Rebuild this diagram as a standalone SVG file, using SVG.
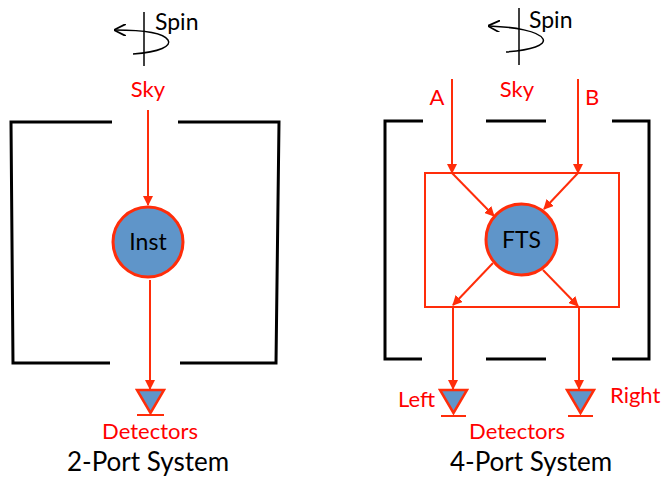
<svg xmlns="http://www.w3.org/2000/svg" width="668" height="477" viewBox="0 0 668 477">
<style>
.frame{fill:none;stroke:#000;stroke-width:3}
.rl{fill:none;stroke:#ff2d0a;stroke-width:2}
.rla{fill:none;stroke:#ff2d0a;stroke-width:2;marker-end:url(#ah)}
.sp{fill:none;stroke:#000;stroke-width:1.5}
.node{fill:#5f95c9;stroke:#ff2d0a;stroke-width:3}
.det{fill:#5f95c9;stroke:#ff2d0a;stroke-width:2.5}
text{font-family:Lato,"Liberation Sans",sans-serif}
.red{fill:#ff0000;font-size:22px}
.blk{fill:#000;font-size:23px}
.title{fill:#000;font-size:26px}
</style>
<defs>
<marker id="ah" viewBox="0 0 10 10" refX="9" refY="5" markerWidth="5" markerHeight="5" orient="auto" markerUnits="strokeWidth">
<path d="M0,0 L10,5 L0,10 z" fill="#ff2d0a"/>
</marker>
<marker id="bh" viewBox="0 0 10 10" refX="9" refY="5" markerWidth="8" markerHeight="8" orient="auto" markerUnits="strokeWidth">
<path d="M0,0 L10,5 L0,10" fill="none" stroke="#000" stroke-width="1.5"/>
</marker>
</defs>

<g id="spin-left">
<line class="sp" x1="144" y1="12" x2="144" y2="66"/>
<path class="sp" d="M133,54 C160,52 172,46 168,40 C163,32 140,30 115,30" marker-end="url(#bh)"/>
<text class="blk" x="155" y="30">Spin</text>
</g>
<g id="spin-right">
<line class="sp" x1="519" y1="8" x2="519" y2="65"/>
<path class="sp" d="M506,52 C532,50 546,45 543,39 C539,31 514,27 489,26" marker-end="url(#bh)"/>
<text class="blk" x="529" y="28">Spin</text>
</g>

<g id="frame-left">
<polyline class="frame" points="112,122 11,122 13,363 110,363"/>
<polyline class="frame" points="178,122 279,122 276,363 180,363"/>
</g>
<g id="frame-right">
<polyline class="frame" points="423,121 385,121 385,359 422,359"/>
<line class="frame" x1="486" y1="121" x2="546" y2="121"/>
<line class="frame" x1="486" y1="359" x2="546" y2="359"/>
<polyline class="frame" points="612,121 649,121 649,359 612,359"/>
</g>

<g id="fts-box">
<rect class="rl" x="425" y="173" width="194" height="134"/>
</g>

<g id="connectors">
<line class="rla" x1="148" y1="110" x2="148" y2="205"/>
<line class="rla" x1="150" y1="280" x2="150" y2="389"/>
<line class="rla" x1="452" y1="79" x2="452" y2="173"/>
<line class="rla" x1="578" y1="79" x2="578" y2="173"/>
<line class="rla" x1="452" y1="173" x2="494" y2="216"/>
<line class="rla" x1="578" y1="173" x2="544" y2="209"/>
<line class="rla" x1="493" y1="263" x2="453" y2="305"/>
<line class="rla" x1="543" y1="270" x2="578" y2="306"/>
<line class="rla" x1="453" y1="307" x2="453" y2="389"/>
<line class="rla" x1="579" y1="307" x2="579" y2="389"/>
</g>

<g id="inst">
<circle class="node" cx="148" cy="242" r="35"/>
<text class="blk" x="148" y="250" text-anchor="middle">Inst</text>
</g>
<g id="fts">
<circle class="node" cx="521.5" cy="239.5" r="35.5"/>
<text class="blk" x="521.5" y="247.5" text-anchor="middle">FTS</text>
</g>

<g id="det-left">
<polygon class="det" points="137,390 164,390 150.5,413"/>
<line class="rl" x1="137" y1="415" x2="164" y2="415"/>
</g>
<g id="det-l4">
<polygon class="det" points="440,390 467,390 453.5,413"/>
<line class="rl" x1="441" y1="416" x2="466" y2="416"/>
</g>
<g id="det-r4">
<polygon class="det" points="567,390 594,390 580.5,413"/>
<line class="rl" x1="568" y1="416" x2="593" y2="416"/>
</g>

<g id="labels">
<text class="red" x="148" y="97" text-anchor="middle">Sky</text>
<text class="red" x="517" y="97" text-anchor="middle">Sky</text>
<text class="red" x="437" y="105" text-anchor="middle">A</text>
<text class="red" x="592" y="105" text-anchor="middle">B</text>
<text class="red" x="435" y="407" text-anchor="end">Left</text>
<text class="red" x="610" y="403">Right</text>
<text class="red" x="150" y="439" text-anchor="middle">Detectors</text>
<text class="red" x="517" y="439" text-anchor="middle">Detectors</text>
<text class="title" x="148" y="471" text-anchor="middle">2-Port System</text>
<text class="title" x="531" y="471" text-anchor="middle">4-Port System</text>
</g>
</svg>
